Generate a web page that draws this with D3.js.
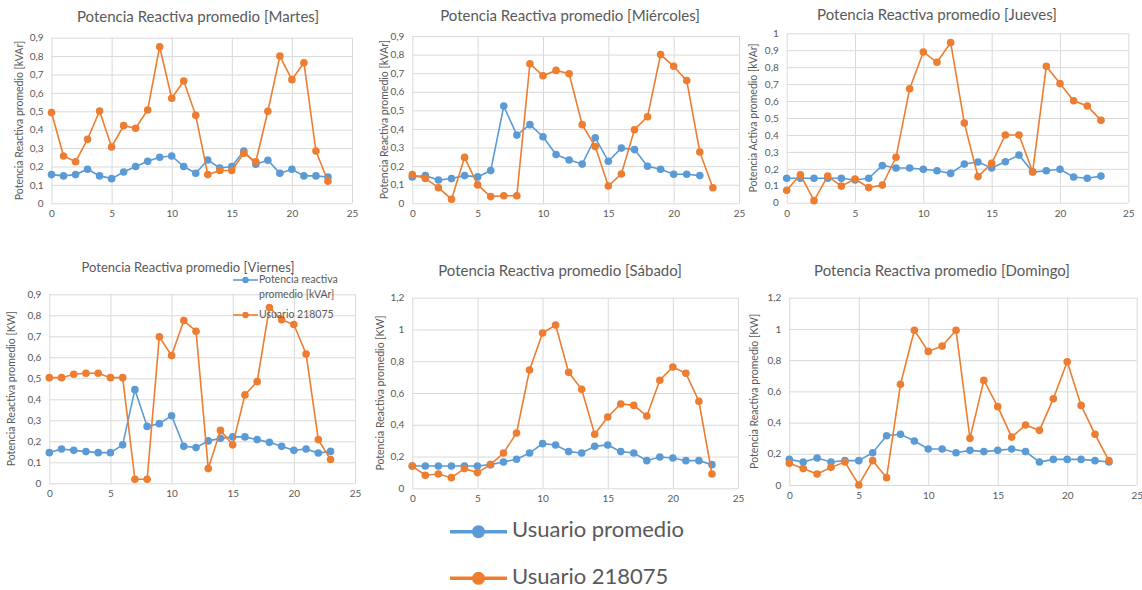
<!DOCTYPE html>
<html><head><meta charset="utf-8">
<script src="https://cdn.jsdelivr.net/npm/d3@7"></script>
<style>
body{margin:0;background:#fff;}
svg{display:block;font-family:Lato,"Open Sans",sans-serif;}
</style></head><body>
<svg id="c" width="1142" height="590"></svg>
<script>
const hours = [0,1,2,3,4,5,6,7,8,9,10,11,12,13,14,15,16,17,18,19,20,21,22,23];
const seriesNames = ["Usuario promedio","Usuario 218075"];
const dayTitles = ["Potencia Reactiva promedio [Martes]","Potencia Reactiva promedio [Miércoles]","Potencia Reactiva promedio [Jueves]","Potencia Reactiva promedio [Viernes]","Potencia Reactiva promedio [Sábado]","Potencia Reactiva promedio [Domingo]"];
const yTitles = ["Potencia Reactiva promedio [kVAr]","Potencia Reactiva promedio [kVAr]","Potencia Activa promedio [kVAr]","Potencia Reactiva promedio [KW]","Potencia Reactiva promedio [KW]","Potencia Reactiva promedio [KW]"];
const yMax = [0.9,0.9,1,0.9,1.2,1.2];
const yStep = [0.1,0.1,0.1,0.1,0.2,0.2];
const xTicks = [0,5,10,15,20,25];

const promMartes   = [0.156,0.149,0.156,0.185,0.149,0.134,0.17,0.2,0.228,0.25,0.257,0.2,0.163,0.235,0.192,0.2,0.284,0.212,0.234,0.163,0.185,0.149,0.149,0.143];
const userMartes   = [0.493,0.257,0.226,0.348,0.502,0.306,0.422,0.408,0.507,0.851,0.571,0.665,0.478,0.156,0.178,0.178,0.272,0.226,0.5,0.8,0.672,0.764,0.284,0.12];
const promMiercoles= [0.142,0.149,0.125,0.133,0.149,0.142,0.176,0.523,0.367,0.423,0.358,0.262,0.233,0.211,0.353,0.226,0.297,0.289,0.199,0.183,0.156,0.156,0.149,null];
const userMiercoles= [0.154,0.134,0.084,0.022,0.247,0.099,0.036,0.041,0.041,0.751,0.686,0.715,0.697,0.423,0.305,0.093,0.158,0.396,0.466,0.8,0.737,0.66,0.276,0.084];
const promJueves   = [0.144,0.144,0.144,0.144,0.144,0.134,0.144,0.22,0.205,0.205,0.197,0.189,0.173,0.228,0.24,0.205,0.242,0.281,0.181,0.189,0.197,0.152,0.144,0.157];
const userJueves   = [0.073,0.165,0.012,0.157,0.098,0.14,0.089,0.104,0.268,0.673,0.89,0.829,0.945,0.47,0.154,0.232,0.4,0.4,0.183,0.805,0.703,0.602,0.571,0.486];
const promViernes  = [0.146,0.163,0.157,0.151,0.146,0.146,0.183,0.446,0.271,0.284,0.322,0.176,0.17,0.202,0.214,0.221,0.221,0.208,0.195,0.176,0.157,0.163,0.144,0.152];
const userViernes  = [0.503,0.503,0.519,0.524,0.524,0.503,0.503,0.019,0.019,0.698,0.608,0.775,0.724,0.07,0.252,0.183,0.421,0.484,0.837,0.779,0.756,0.616,0.208,0.113];
const promSabado   = [0.14,0.14,0.14,0.14,0.14,0.14,0.149,0.166,0.183,0.222,0.281,0.273,0.231,0.222,0.264,0.273,0.231,0.222,0.174,0.197,0.191,0.174,0.174,0.149];
const userSabado   = [0.14,0.082,0.09,0.067,0.124,0.099,0.149,0.222,0.348,0.745,0.978,1.028,0.73,0.623,0.34,0.449,0.531,0.522,0.455,0.68,0.764,0.724,0.548,0.09];
const promDomingo  = [0.164,0.147,0.173,0.147,0.156,0.156,0.207,0.316,0.325,0.282,0.231,0.231,0.207,0.222,0.214,0.222,0.231,0.214,0.147,0.164,0.164,0.164,0.156,0.147];
const userDomingo  = [0.139,0.105,0.07,0.113,0.147,0.0,0.156,0.047,0.645,0.991,0.856,0.89,0.991,0.299,0.67,0.502,0.307,0.384,0.35,0.553,0.79,0.51,0.325,0.156];
const vierLegend = ["Potencia reactiva","promedio [kVAr]","Usuario 218075"];

const promData = [promMartes,promMiercoles,promJueves,promViernes,promSabado,promDomingo];
const userData = [userMartes,userMiercoles,userJueves,userViernes,userSabado,userDomingo];

const COLORS = ["#5B9BD5","#ED7D31"];
const TXT = "#595959", GRID = "#d9d9d9";

const layout = [
  {l:51.5,r:352,b:203.3,t:37.7,tx:198,ty:22,ts:15,yx:20},
  {l:412.3,r:739,b:203.3,t:36,tx:570,ty:21,ts:15,yx:385},
  {l:786.7,r:1128.3,b:202.7,t:33.3,tx:937,ty:20,ts:15,yx:754},
  {l:49.3,r:355,b:483.3,t:294.3,tx:188,ty:271.5,ts:13,yx:12},
  {l:412.3,r:738,b:488.3,t:297.7,tx:560,ty:276,ts:15,yx:381},
  {l:789.3,r:1136.7,b:485,t:297.7,tx:942,ty:276,ts:15,yx:755}
];

const svg = d3.select("#c");
const fmt = v => d3.format(".1f")(v).replace(".",",").replace(/,0$/,"");

layout.forEach((L,i)=>{
  const g = svg.append("g");
  const x = d3.scaleLinear().domain([0,25]).range([L.l,L.r]);
  const y = d3.scaleLinear().domain([0,yMax[i]]).range([L.b,L.t]);
  const yt = d3.range(0, yMax[i]+1e-9, yStep[i]).map(v=>+v.toFixed(2));
  g.append("g").call(d3.axisLeft(y).tickValues(yt).tickSize(-(L.r-L.l)).tickFormat(""))
    .attr("transform",`translate(${L.l},0)`)
    .call(s=>{s.select(".domain").remove();s.selectAll("line").attr("stroke",GRID);});
  g.append("g").call(d3.axisBottom(x).tickValues(xTicks).tickSize(-(L.b-L.t)).tickFormat(""))
    .attr("transform",`translate(0,${L.b})`)
    .call(s=>{s.select(".domain").remove();s.selectAll("line").attr("stroke",GRID);});
  g.append("g").attr("transform",`translate(${L.l},0)`)
    .call(d3.axisLeft(y).tickValues(yt).tickSize(0).tickPadding(8).tickFormat(fmt))
    .call(s=>{s.select(".domain").remove();s.selectAll("text").attr("fill",TXT).style("font-size","10px").style("font-family","Lato");});
  g.append("g").attr("transform",`translate(0,${L.b})`)
    .call(d3.axisBottom(x).tickValues(xTicks).tickSize(0).tickPadding(7).tickFormat(d3.format("d")))
    .call(s=>{s.select(".domain").remove();s.selectAll("text").attr("fill",TXT).style("font-size","10px").style("font-family","Lato");});
  g.append("text").attr("x",L.tx).attr("y",L.ty).attr("text-anchor","middle")
    .attr("fill",TXT).style("font-size",L.ts+"px").text(dayTitles[i]);
  g.append("text").attr("transform",`translate(${L.yx},${(L.b+L.t)/2}) rotate(-90)`)
    .attr("text-anchor","middle").attr("dominant-baseline","middle")
    .attr("fill",TXT).style("font-size","10.5px").text(yTitles[i]);
  [promData[i],userData[i]].forEach((arr,k)=>{
    const pts = hours.map((h,j)=>({h,v:arr[j]})).filter(d=>d.v!=null);
    g.append("path").datum(pts)
      .attr("d",d3.line().x(d=>x(d.h)).y(d=>y(d.v)))
      .attr("fill","none").attr("stroke",COLORS[k]).attr("stroke-width",1.6);
    g.selectAll(null).data(pts).enter().append("circle")
      .attr("cx",d=>x(d.h)).attr("cy",d=>y(d.v)).attr("r",3.8).attr("fill",COLORS[k]);
  });
});

const vl = svg.append("g");
[[280,COLORS[0],vierLegend[0]],[295.5,null,vierLegend[1]],[315,COLORS[1],vierLegend[2]]].forEach(([yy,c,t])=>{
  if(c){
    vl.append("line").attr("x1",233).attr("x2",258).attr("y1",yy).attr("y2",yy).attr("stroke",c).attr("stroke-width",1.6);
    vl.append("circle").attr("cx",245.5).attr("cy",yy).attr("r",3.2).attr("fill",c);
  }
  vl.append("text").attr("x",259).attr("y",yy).attr("dominant-baseline","middle")
    .attr("fill",TXT).style("font-size","10.5px").text(t);
});

const bl = svg.append("g");
[531.7,578.3].forEach((yy,k)=>{
  bl.append("line").attr("x1",450).attr("x2",507).attr("y1",yy).attr("y2",yy).attr("stroke",COLORS[k]).attr("stroke-width",3.5);
  bl.append("circle").attr("cx",478.5).attr("cy",yy).attr("r",6.5).attr("fill",COLORS[k]);
  bl.append("text").attr("x",512).attr("y",yy).attr("dominant-baseline","middle")
    .attr("fill",TXT).style("font-size","22px").text(seriesNames[k]);
});
</script>
</body></html>
